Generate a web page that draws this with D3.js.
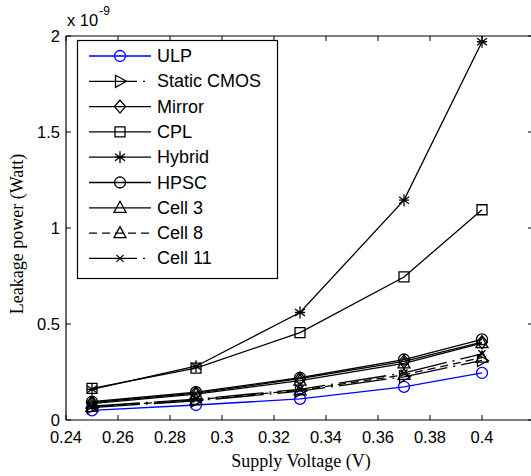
<!DOCTYPE html>
<html><head><meta charset="utf-8">
<script src="https://cdn.jsdelivr.net/npm/d3@7/dist/d3.min.js"></script>
<style>body{margin:0;background:#fff}svg{display:block}</style>
</head><body>
<svg id="chart" width="531" height="476"></svg>
<script>
const voltages = [0.25, 0.29, 0.33, 0.37, 0.40];
const seriesNames = ["ULP","Static CMOS","Mirror","CPL","Hybrid","HPSC","Cell 3","Cell 8","Cell 11"];
const ulp        = [0.050, 0.078, 0.110, 0.173, 0.245];
const staticCmos = [0.065, 0.100, 0.150, 0.225, 0.310];
const mirror     = [0.090, 0.140, 0.215, 0.305, 0.405];
const cpl        = [0.165, 0.270, 0.455, 0.745, 1.095];
const hybrid     = [0.160, 0.280, 0.560, 1.145, 1.970];
const hpsc       = [0.095, 0.145, 0.220, 0.315, 0.420];
const cell3      = [0.085, 0.135, 0.205, 0.295, 0.400];
const cell8      = [0.068, 0.105, 0.155, 0.235, 0.325];
const cell11     = [0.072, 0.108, 0.160, 0.245, 0.345];
const xTicks = [0.24, 0.26, 0.28, 0.30, 0.32, 0.34, 0.36, 0.38, 0.40];
const xTickLabels = ["0.24","0.26","0.28","0.3","0.32","0.34","0.36","0.38","0.4"];
const yTicks = [0, 0.5, 1, 1.5, 2];
const yTickLabels = ["0","0.5","1","1.5","2"];

const values = [ulp, staticCmos, mirror, cpl, hybrid, hpsc, cell3, cell8, cell11];
const markers = ["circle","triR","diamond","square","star","circle","triU","triU","x"];
const colors = ["#0000ff","#000","#000","#000","#000","#000","#000","#000","#000"];
const dashes = [null,"48,6,2,6",null,null,null,null,null,"8,5","48,6,2,6"];

const svg = d3.select("#chart");
const L = 66, R = 534, T = 36, B = 420;
const x = d3.scaleLinear().domain([0.24, 0.42]).range([L, R]);
const y = d3.scaleLinear().domain([0, 2]).range([B, T]);

// axes box
const g = svg.append("g");
g.append("line").attr("x1",L).attr("x2",R).attr("y1",B).attr("y2",B).attr("stroke","#000").attr("stroke-width",1.2);
g.append("line").attr("x1",L).attr("x2",R).attr("y1",T).attr("y2",T).attr("stroke","#000").attr("stroke-width",1);
g.append("line").attr("x1",L).attr("x2",L).attr("y1",T).attr("y2",B).attr("stroke","#000").attr("stroke-width",1.2);
g.append("line").attr("x1",R-1).attr("x2",R-1).attr("y1",T).attr("y2",B).attr("stroke","#000").attr("stroke-width",1);

// ticks
xTicks.forEach((t,i)=>{
  const xx = x(t);
  g.append("line").attr("x1",xx).attr("x2",xx).attr("y1",B).attr("y2",B-5).attr("stroke","#000");
  g.append("line").attr("x1",xx).attr("x2",xx).attr("y1",T).attr("y2",T+5).attr("stroke","#000");
  g.append("text").attr("x",xx).attr("y",B+23).attr("text-anchor","middle")
    .attr("font-family","'Liberation Sans',Arial,sans-serif").attr("font-size",16.5).text(xTickLabels[i]);
});
yTicks.forEach((t,i)=>{
  const yy = y(t);
  g.append("line").attr("x1",L).attr("x2",L+5).attr("y1",yy).attr("y2",yy).attr("stroke","#000");
  g.append("line").attr("x1",R-1).attr("x2",R-6).attr("y1",yy).attr("y2",yy).attr("stroke","#000");
  g.append("text").attr("x",L-6).attr("y",yy+6).attr("text-anchor","end")
    .attr("font-family","'Liberation Sans',Arial,sans-serif").attr("font-size",16.5).text(yTickLabels[i]);
});

// exponent
const ex = g.append("text").attr("x",67).attr("y",26).attr("font-family","'Liberation Sans',Arial,sans-serif").attr("font-size",16.5);
ex.append("tspan").text("x 10");
ex.append("tspan").attr("font-size",12).attr("dy",-11).attr("dx",1).text("-9");

// axis labels
g.append("text").attr("x",301).attr("y",467).attr("text-anchor","middle")
  .attr("font-family","'Liberation Serif','Times New Roman',serif").attr("font-size",18).text("Supply Voltage (V)");
g.append("text").attr("transform","translate(23,234) rotate(-90)").attr("text-anchor","middle")
  .attr("font-family","'Liberation Serif','Times New Roman',serif").attr("font-size",18).text("Leakage power (Watt)");

function markerPath(type, cx, cy){
  const p = d3.path();
  if(type==="circle"){ p.moveTo(cx+5.5,cy); p.arc(cx,cy,5.5,0,2*Math.PI); }
  else if(type==="square"){ p.rect(cx-5,cy-5,10,10); }
  else if(type==="diamond"){ p.moveTo(cx,cy-6.5); p.lineTo(cx+5.5,cy); p.lineTo(cx,cy+6.5); p.lineTo(cx-5.5,cy); p.closePath(); }
  else if(type==="triU"){ p.moveTo(cx,cy-6.5); p.lineTo(cx+6,cy+4.5); p.lineTo(cx-6,cy+4.5); p.closePath(); }
  else if(type==="triR"){ p.moveTo(cx+6.5,cy); p.lineTo(cx-4.5,cy+6); p.lineTo(cx-4.5,cy-6); p.closePath(); }
  else if(type==="star"){ p.moveTo(cx,cy-6); p.lineTo(cx,cy+6); p.moveTo(cx-5,cy-3.5); p.lineTo(cx+5,cy+3.5); p.moveTo(cx-5,cy+3.5); p.lineTo(cx+5,cy-3.5); p.moveTo(cx-5,cy); p.lineTo(cx+5,cy); }
  else if(type==="x"){ p.moveTo(cx-3.5,cy-3.5); p.lineTo(cx+3.5,cy+3.5); p.moveTo(cx-3.5,cy+3.5); p.lineTo(cx+3.5,cy-3.5); }
  return p.toString();
}

const line = d3.line().x(d=>x(d[0])).y(d=>y(d[1]));
const plot = svg.append("g");
values.forEach((vals,i)=>{
  const pts = voltages.map((v,j)=>[v, vals[j]]);
  plot.append("path").attr("d",line(pts)).attr("fill","none").attr("stroke",colors[i])
    .attr("stroke-width",1.3).attr("stroke-dasharray",dashes[i]);
  pts.forEach(pt=>{
    plot.append("path").attr("d",markerPath(markers[i], x(pt[0]), y(pt[1])))
      .attr("fill","none").attr("stroke",colors[i]).attr("stroke-width",1.3);
  });
});

// legend
const lg = svg.append("g");
lg.append("rect").attr("x",77.5).attr("y",40.5).attr("width",200).attr("height",238)
  .attr("fill","#fff").attr("stroke","#000").attr("stroke-width",1.2);
seriesNames.forEach((name,i)=>{
  const yy = 56 + i*25.3;
  lg.append("line").attr("x1",89).attr("x2",151).attr("y1",yy).attr("y2",yy)
    .attr("stroke",colors[i]).attr("stroke-width",1.3).attr("stroke-dasharray",dashes[i]);
  lg.append("path").attr("d",markerPath(markers[i],120,yy)).attr("fill","none").attr("stroke",colors[i]).attr("stroke-width",1.3);
  lg.append("text").attr("x",157).attr("y",yy+6).attr("font-family","'Liberation Sans',Arial,sans-serif")
    .attr("font-size",18).text(name);
});
</script>
</body></html>
